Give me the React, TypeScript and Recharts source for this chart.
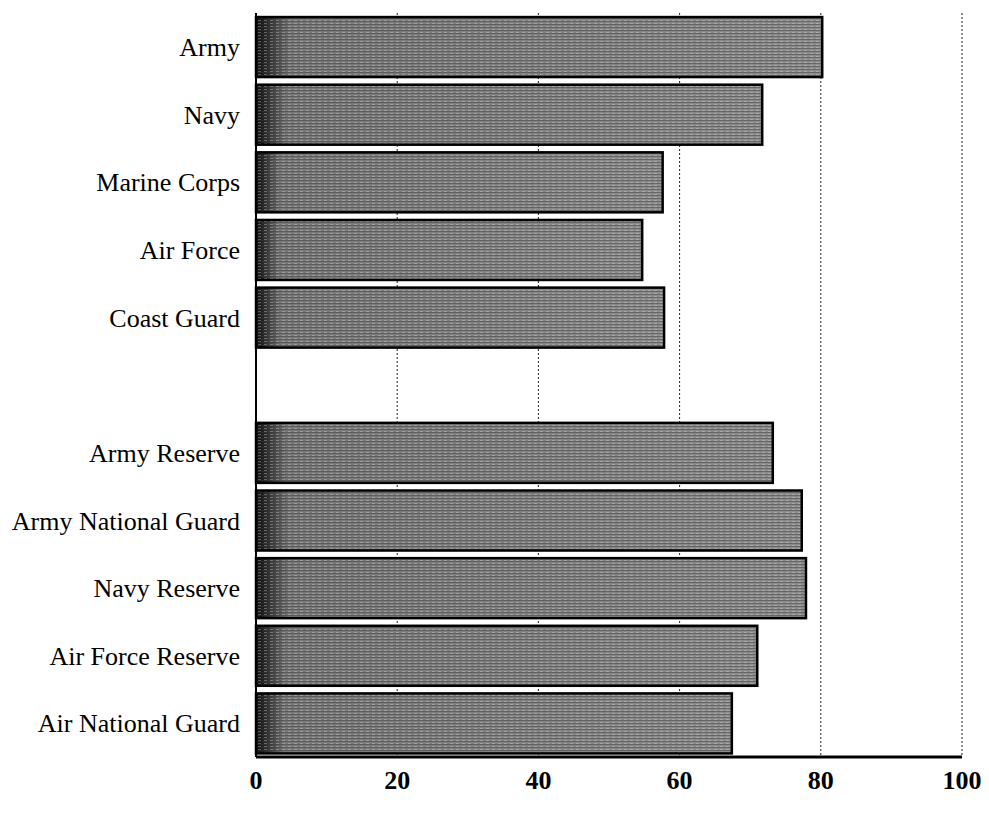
import { BarChart, Bar, XAxis, YAxis, CartesianGrid } from "recharts";

// service branches, top to bottom (blank row separates active from reserve)
const categories = [
  "Army",
  "Navy",
  "Marine Corps",
  "Air Force",
  "Coast Guard",
  "",
  "Army Reserve",
  "Army National Guard",
  "Navy Reserve",
  "Air Force Reserve",
  "Air National Guard",
];
const percentages = [80.2, 71.7, 57.6, 54.7, 57.8, null, 73.2, 77.3, 77.9, 71.0, 67.4];
const xTicks = [0, 20, 40, 60, 80, 100];

const chartData = categories.map((name, i) => ({ name, value: percentages[i] }));

function TexturedBar(props: any) {
  const { x, y, width, height } = props;
  if (!width || width <= 0) return null;
  return (
    <g>
      <rect x={x} y={y} width={width} height={height} fill="url(#barShade)" />
      <rect x={x} y={y} width={width} height={height} fill="url(#barLines)" />
      <rect x={x} y={y} width={width} height={height} fill="none" stroke="#000" strokeWidth={2.5} />
    </g>
  );
}

export default function App() {
  return (
    <div style={{ position: "absolute", left: 0, top: 0, background: "#fff" }}>
      <BarChart
        width={989}
        height={813}
        data={chartData}
        layout="vertical"
        barCategoryGap="6%"
        margin={{ top: 13, right: 27, bottom: 26, left: 0 }}
      >
        <defs>
          <linearGradient id="barShade" x1="0" y1="0" x2="1" y2="0">
            <stop offset="0%" stopColor="#0a0a0a" />
            <stop offset="2%" stopColor="#2a2a2a" />
            <stop offset="6%" stopColor="#777" />
            <stop offset="100%" stopColor="#8c8c8c" />
          </linearGradient>
          <pattern id="barLines" width="6" height="3" patternUnits="userSpaceOnUse">
            <rect x="0" y="0" width="6" height="1" fill="#3a3a3a" opacity="0.45" />
            <rect x="0" y="2" width="3" height="1" fill="#dddddd" opacity="0.35" />
          </pattern>
        </defs>
        <CartesianGrid horizontal={false} stroke="#222" strokeDasharray="2 2" />
        <XAxis
          type="number"
          domain={[0, 100]}
          ticks={xTicks}
          height={30}
          axisLine={{ stroke: "#000", strokeWidth: 3 }}
          tickLine={false}
          tickMargin={8}
          tick={{ fill: "#000", fontFamily: "Liberation Serif", fontSize: 26, fontWeight: "bold" }}
        />
        <YAxis
          type="category"
          dataKey="name"
          width={256}
          interval={0}
          axisLine={{ stroke: "#000", strokeWidth: 2 }}
          tickLine={false}
          tickMargin={10}
          tick={{ fill: "#000", fontFamily: "Liberation Serif", fontSize: 26 }}
        />
        <Bar dataKey="value" shape={TexturedBar} isAnimationActive={false} />
      </BarChart>
    </div>
  );
}
